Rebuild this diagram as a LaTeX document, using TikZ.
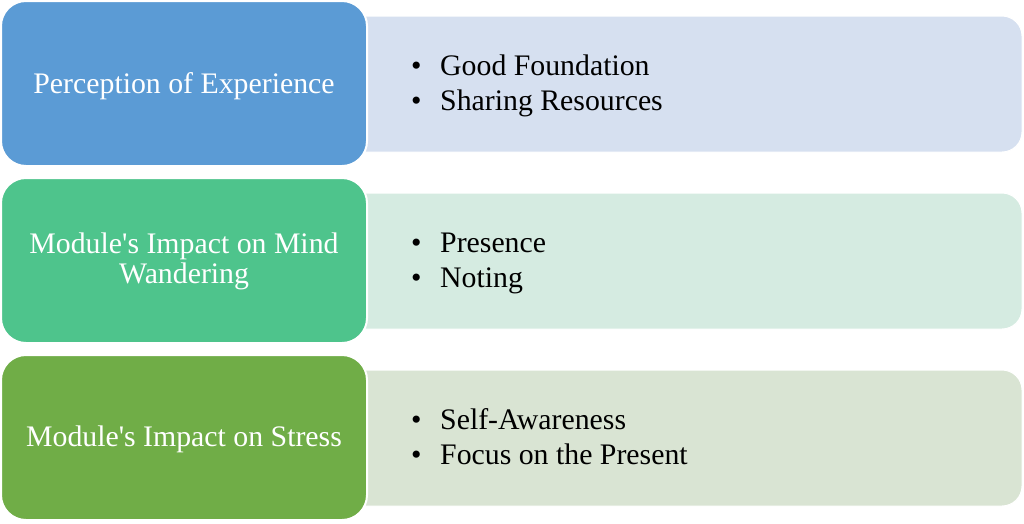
\documentclass[tikz,border=0pt]{standalone}
\usepackage{fontspec}
\setmainfont{Liberation Serif}[Ligatures=TeXOff]
\definecolor{cblue}{HTML}{5B9BD5}
\definecolor{cteal}{HTML}{4EC48C}
\definecolor{cgreen}{HTML}{70AD47}
\definecolor{lblue}{HTML}{D6E0F0}
\definecolor{lteal}{HTML}{D5EBE1}
\definecolor{lgreen}{HTML}{D9E4D3}
\begin{document}
\begin{tikzpicture}[x=1pt,y=-1pt,
  headbox/.style={draw=white, line width=2pt, rounded corners=25pt,
    minimum width=366pt, minimum height=165pt, inner sep=0pt},
  headtext/.style={anchor=base, inner sep=0pt, text=white,
    font=\fontsize{29.8}{30}\selectfont},
  listbox/.style={draw=white, line width=1pt, rounded corners=20pt,
    minimum width=722pt, minimum height=136pt, inner sep=0pt},
  listtext/.style={anchor=base west, inner sep=0pt,
    font=\fontsize{29.8}{34.5}\selectfont}]
\useasboundingbox (0,0) rectangle (1024,523);
% right list boxes
\node[listbox, fill=lblue]  (r1) at (661,84) {};
\node[listbox, fill=lteal]  (r2) at (661,261) {};
\node[listbox, fill=lgreen] (r3) at (661,438) {};
% left heading boxes
\node[headbox, fill=cblue]  (h1) at (184,83.5) {};
\node[headbox, fill=cteal]  (h2) at (184,260.5) {};
\node[headbox, fill=cgreen] (h3) at (184,437.5) {};
% heading texts
\node[headtext] (h1t)  at (184,93)  {Perception of Experience};
\node[headtext] (h2ta) at (184,253) {Module's Impact on Mind};
\node[headtext] (h2tb) at (184,283) {Wandering};
\node[headtext] (h3t)  at (184,446.5) {Module's Impact on Stress};
% list texts
\node[listtext] (t1a) at (411,75)  {\makebox[29pt][l]{\textbullet}Good Foundation};
\node[listtext] (t1b) at (411,110) {\makebox[29pt][l]{\textbullet}Sharing Resources};
\node[listtext] (t2a) at (411,252) {\makebox[29pt][l]{\textbullet}Presence};
\node[listtext] (t2b) at (411,287) {\makebox[29pt][l]{\textbullet}Noting};
\node[listtext] (t3a) at (411,429) {\makebox[29pt][l]{\textbullet}Self-Awareness};
\node[listtext] (t3b) at (411,464) {\makebox[29pt][l]{\textbullet}Focus on the Present};
\end{tikzpicture}
\end{document}
